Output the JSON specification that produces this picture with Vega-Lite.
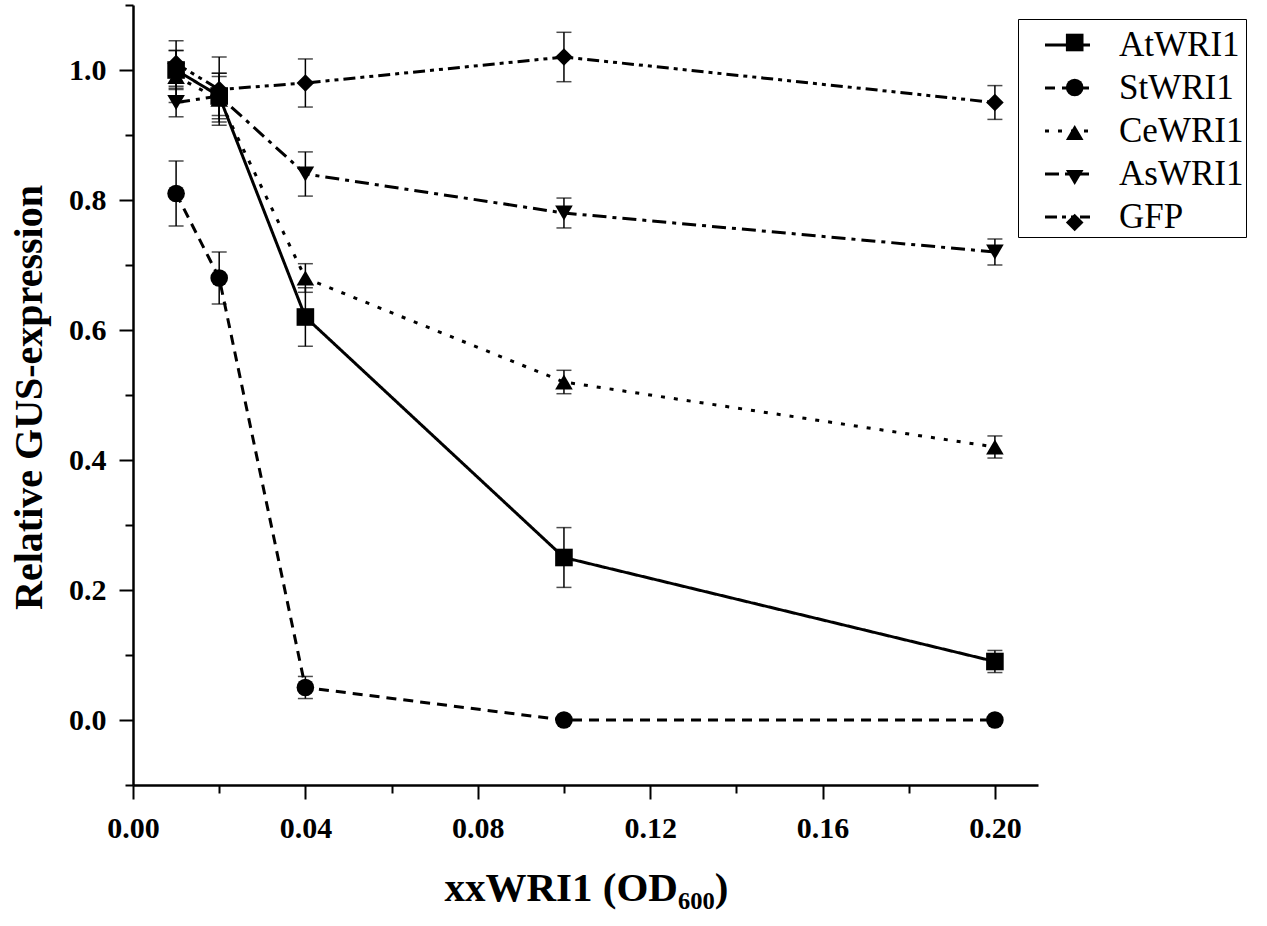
{
  "$schema": "https://vega.github.io/schema/vega-lite/v6.json",
  "autosize": {"type": "none"},
  "padding": {"left": 133, "top": 5, "right": 229, "bottom": 141},
  "width": 905,
  "height": 780,
  "background": "white",
  "config": {
    "view": {"stroke": null},
    "axis": {
      "grid": false,
      "domainColor": "black",
      "domainWidth": 2.5,
      "tickColor": "black",
      "tickWidth": 2,
      "labelFont": "Liberation Serif",
      "labelFontWeight": "bold",
      "labelFontSize": 30,
      "labelColor": "black",
      "labelOverlap": false,
      "labelFlush": false,
      "titleFont": "Liberation Serif",
      "titleFontWeight": "bold",
      "titleColor": "black"
    },
    "legend": {
      "labelFont": "Liberation Serif",
      "labelFontSize": 35,
      "labelColor": "black"
    }
  },
  "data": {
    "values": [
      {"series": "AtWRI1", "od": 0.01, "value": 1.0, "err": 0.03},
      {"series": "AtWRI1", "od": 0.02, "value": 0.96, "err": 0.03},
      {"series": "AtWRI1", "od": 0.04, "value": 0.62, "err": 0.045},
      {"series": "AtWRI1", "od": 0.1, "value": 0.25, "err": 0.046},
      {"series": "AtWRI1", "od": 0.2, "value": 0.09, "err": 0.017},
      {"series": "StWRI1", "od": 0.01, "value": 0.81, "err": 0.05},
      {"series": "StWRI1", "od": 0.02, "value": 0.68, "err": 0.04},
      {"series": "StWRI1", "od": 0.04, "value": 0.05, "err": 0.017},
      {"series": "StWRI1", "od": 0.1, "value": 0.0, "err": 0.0},
      {"series": "StWRI1", "od": 0.2, "value": 0.0, "err": 0.0},
      {"series": "CeWRI1", "od": 0.01, "value": 0.99, "err": 0.04},
      {"series": "CeWRI1", "od": 0.02, "value": 0.955, "err": 0.04},
      {"series": "CeWRI1", "od": 0.04, "value": 0.68, "err": 0.022},
      {"series": "CeWRI1", "od": 0.1, "value": 0.52, "err": 0.018},
      {"series": "CeWRI1", "od": 0.2, "value": 0.42, "err": 0.017},
      {"series": "AsWRI1", "od": 0.01, "value": 0.95, "err": 0.022},
      {"series": "AsWRI1", "od": 0.02, "value": 0.96, "err": 0.035},
      {"series": "AsWRI1", "od": 0.04, "value": 0.84, "err": 0.034},
      {"series": "AsWRI1", "od": 0.1, "value": 0.78, "err": 0.023},
      {"series": "AsWRI1", "od": 0.2, "value": 0.72, "err": 0.02},
      {"series": "GFP", "od": 0.01, "value": 1.01, "err": 0.035},
      {"series": "GFP", "od": 0.02, "value": 0.97, "err": 0.05},
      {"series": "GFP", "od": 0.04, "value": 0.98, "err": 0.037},
      {"series": "GFP", "od": 0.1, "value": 1.02, "err": 0.038},
      {"series": "GFP", "od": 0.2, "value": 0.95, "err": 0.026}
    ]
  },
  "encoding": {
    "x": {
      "field": "od",
      "type": "quantitative",
      "scale": {"domain": [0, 0.21], "nice": false},
      "axis": {
        "values": [0, 0.02, 0.04, 0.06, 0.08, 0.1, 0.12, 0.14, 0.16, 0.18, 0.2],
        "labelExpr": "round(datum.value * 50) % 2 === 1 ? '' : format(datum.value, '.2f')",
        "tickSize": {"condition": {"test": "round(datum.value * 50) % 2 === 1", "value": 8}, "value": 14},
        "labelPadding": 14,
        "title": "xxWRI1 (OD₆₀₀)",
        "titleFontSize": 41,
        "titleX": 453,
        "titleY": 115,
        "titleAlign": "center",
        "titleBaseline": "alphabetic"
      }
    },
    "y": {
      "field": "value",
      "type": "quantitative",
      "scale": {"domain": [-0.1, 1.1], "nice": false, "zero": false},
      "axis": {
        "values": [-0.1, 0, 0.1, 0.2, 0.3, 0.4, 0.5, 0.6, 0.7, 0.8, 0.9, 1.0, 1.1],
        "labelExpr": "abs(round(datum.value * 10)) % 2 === 1 ? '' : format(datum.value, '.1f')",
        "tickSize": {"condition": {"test": "abs(round(datum.value * 10)) % 2 === 1", "value": 8}, "value": 14},
        "labelPadding": 13,
        "title": "Relative GUS-expression",
        "titleFontSize": 40,
        "titleAngle": -90,
        "titleX": -104,
        "titleY": 392,
        "titleAlign": "center",
        "titleBaseline": "middle"
      }
    }
  },
  "layer": [
    {
      "mark": {"type": "errorbar", "ticks": true, "size": 15, "thickness": 1.5, "color": "black"},
      "encoding": {
        "yError": {"field": "err"},
        "detail": {"field": "series"}
      }
    },
    {
      "mark": {"type": "line", "color": "black", "strokeWidth": 3},
      "encoding": {
        "strokeDash": {
          "field": "series",
          "type": "nominal",
          "scale": {
            "domain": ["AtWRI1", "StWRI1", "CeWRI1", "AsWRI1", "GFP"],
            "range": [[1, 0], [10, 7], [4, 9], [14, 6, 4, 6], [12, 5, 4, 5, 4, 5]]
          },
          "legend": {
            "title": null,
            "orient": "none",
            "legendX": 885,
            "legendY": 14,
            "padding": 2,
            "strokeColor": "black",
            "symbolType": "stroke",
            "symbolSize": 2025,
            "symbolStrokeColor": "black",
            "symbolStrokeWidth": 3,
            "symbolOffset": 23.5,
            "labelOffset": 27.5,
            "rowPadding": 1,
            "labelFont": "Liberation Serif",
            "labelFontSize": 35,
            "labelColor": "black",
            "labelBaseline": "middle"
          }
        }
      }
    },
    {
      "mark": {"type": "point", "filled": true, "color": "black", "opacity": 1, "size": 310},
      "encoding": {
        "shape": {
          "field": "series",
          "type": "nominal",
          "sort": ["AtWRI1", "StWRI1", "CeWRI1", "AsWRI1", "GFP"],
          "scale": {
            "range": ["square", "circle", "triangle-up", "triangle-down", "diamond"]
          },
          "legend": {
            "title": null,
            "orient": "none",
            "legendX": 885,
            "legendY": 18,
            "padding": 2,
            "symbolSize": 310,
            "symbolFillColor": "black",
            "symbolStrokeColor": "black",
            "symbolOffset": 37.2,
            "labelOffset": 27.5,
            "rowPadding": 9,
            "labelFont": "Liberation Serif",
            "labelFontSize": 35,
            "labelOpacity": 0,
            "labelBaseline": "middle"
          }
        }
      }
    }
  ]
}
